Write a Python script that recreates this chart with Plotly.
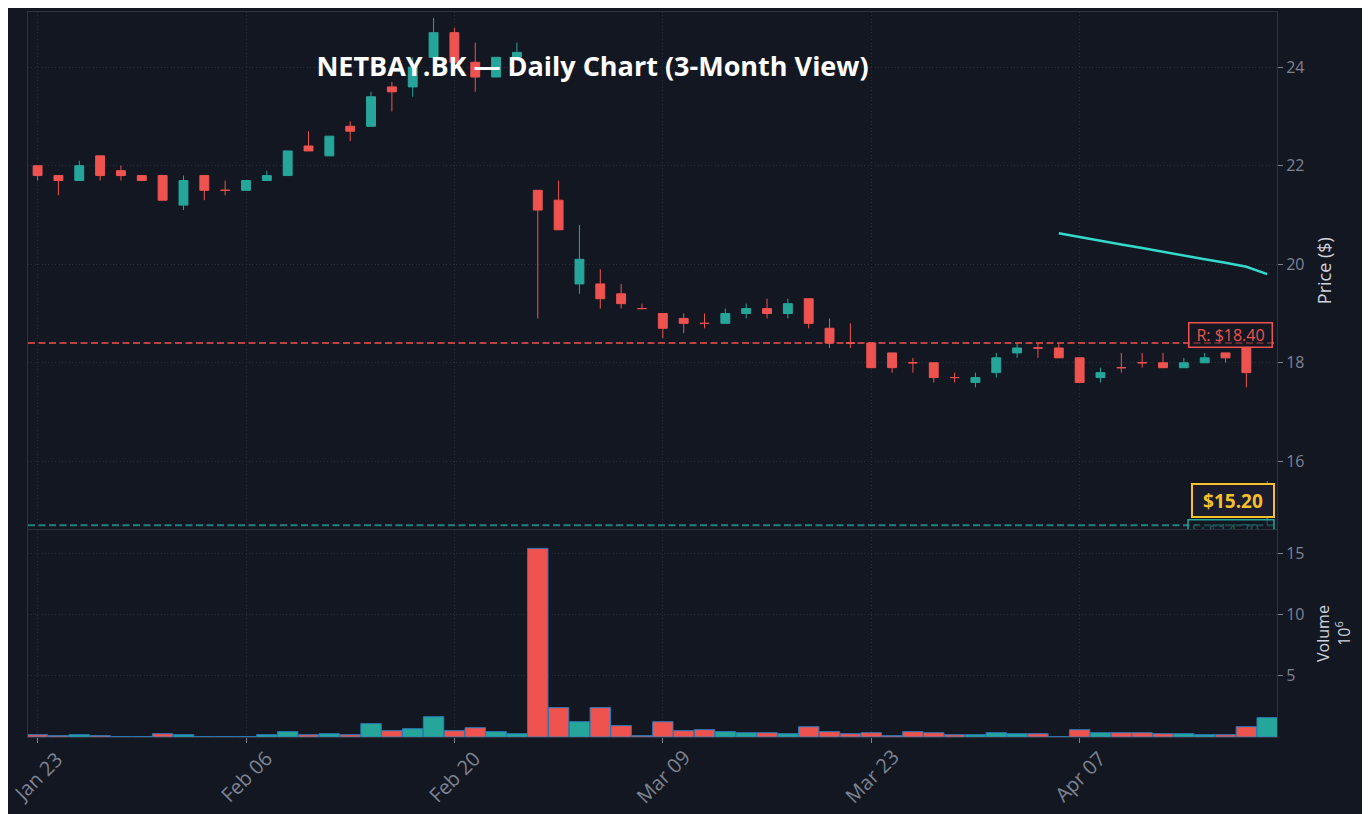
import plotly.graph_objects as go

# ---------------- data ----------------
dates = [
    "2026-01-23", "2026-01-26", "2026-01-27", "2026-01-28", "2026-01-29", "2026-01-30",
    "2026-02-02", "2026-02-03", "2026-02-04", "2026-02-05", "2026-02-06", "2026-02-09",
    "2026-02-10", "2026-02-11", "2026-02-12", "2026-02-13", "2026-02-16", "2026-02-17",
    "2026-02-18", "2026-02-19", "2026-02-20", "2026-02-23", "2026-02-24", "2026-02-25",
    "2026-02-26", "2026-02-27", "2026-03-02", "2026-03-04", "2026-03-05", "2026-03-06",
    "2026-03-09", "2026-03-10", "2026-03-11", "2026-03-12", "2026-03-13", "2026-03-16",
    "2026-03-17", "2026-03-18", "2026-03-19", "2026-03-20", "2026-03-23", "2026-03-24",
    "2026-03-25", "2026-03-26", "2026-03-27", "2026-03-30", "2026-03-31", "2026-04-01",
    "2026-04-02", "2026-04-03", "2026-04-07", "2026-04-08", "2026-04-09", "2026-04-10",
    "2026-04-16", "2026-04-17", "2026-04-20", "2026-04-21", "2026-04-22", "2026-04-23",
]

opens = [22.0, 21.8, 21.7, 22.2, 21.9, 21.8, 21.8, 21.2, 21.8, 21.5,
         21.5, 21.7, 21.8, 22.4, 22.2, 22.8, 22.8, 23.6, 23.6, 24.2,
         24.7, 24.1, 23.8, 24.2, 21.5, 21.3, 19.6, 19.6, 19.4, 19.1,
         19.0, 18.9, 18.8, 18.8, 19.0, 19.1, 19.0, 19.3, 18.7, 18.4,
         18.4, 18.2, 18.0, 18.0, 17.7, 17.6, 17.8, 18.2, 18.3, 18.3,
         18.1, 17.7, 17.9, 18.0, 18.0, 17.9, 18.0, 18.2, 18.3, 14.9]
highs = [22.0, 21.8, 22.1, 22.2, 22.0, 21.8, 21.8, 21.8, 21.8, 21.7,
         21.7, 21.9, 22.3, 22.7, 22.6, 22.9, 23.5, 23.7, 24.2, 25.0,
         24.8, 24.5, 24.2, 24.5, 21.5, 21.7, 20.8, 19.9, 19.6, 19.2,
         19.0, 19.0, 19.0, 19.1, 19.2, 19.3, 19.3, 19.3, 18.9, 18.8,
         18.4, 18.2, 18.1, 18.0, 17.8, 17.8, 18.2, 18.4, 18.4, 18.4,
         18.1, 17.9, 18.2, 18.2, 18.2, 18.1, 18.2, 18.2, 18.3, 15.6]
lows = [21.7, 21.4, 21.7, 21.7, 21.7, 21.7, 21.3, 21.1, 21.3, 21.4,
        21.5, 21.7, 21.8, 22.3, 22.2, 22.5, 22.8, 23.1, 23.4, 24.2,
        24.1, 23.5, 23.8, 24.2, 18.9, 20.7, 19.4, 19.1, 19.1, 19.1,
        18.5, 18.6, 18.7, 18.8, 18.9, 18.9, 18.9, 18.7, 18.3, 18.3,
        17.9, 17.8, 17.8, 17.6, 17.6, 17.5, 17.7, 18.1, 18.1, 18.1,
        17.6, 17.6, 17.8, 17.9, 17.9, 17.9, 18.0, 18.0, 17.5, 14.7]
closes = [21.8, 21.7, 22.0, 21.8, 21.8, 21.7, 21.3, 21.7, 21.5, 21.5,
          21.7, 21.8, 22.3, 22.3, 22.6, 22.7, 23.4, 23.5, 24.0, 24.7,
          24.1, 23.8, 24.2, 24.3, 21.1, 20.7, 20.1, 19.3, 19.2, 19.1,
          18.7, 18.8, 18.8, 19.0, 19.1, 19.0, 19.2, 18.8, 18.4, 18.4,
          17.9, 17.9, 18.0, 17.7, 17.7, 17.7, 18.1, 18.3, 18.3, 18.1,
          17.6, 17.8, 17.9, 18.0, 17.9, 18.0, 18.1, 18.1, 17.8, 15.2]
volumes_m = [0.19, 0.11, 0.19, 0.11, 0.03, 0.03, 0.27, 0.19, 0.03, 0.03,
             0.03, 0.19, 0.44, 0.19, 0.27, 0.19, 1.09, 0.52, 0.68, 1.66,
             0.52, 0.76, 0.44, 0.27, 15.4, 2.40, 1.25, 2.40, 0.93, 0.11,
             1.25, 0.52, 0.60, 0.44, 0.35, 0.35, 0.27, 0.84, 0.44, 0.27,
             0.35, 0.11, 0.44, 0.35, 0.19, 0.19, 0.35, 0.27, 0.27, 0.03,
             0.60, 0.35, 0.35, 0.35, 0.27, 0.27, 0.19, 0.19, 0.84, 1.58]
ma50 = [None] * 49 + [20.63, 20.55, 20.48, 20.40, 20.33, 20.25, 20.18, 20.10, 20.03, 19.95, 19.80]

tick_idx = [0, 10, 20, 30, 40, 50]
tick_labels = ["Jan 23", "Feb 06", "Feb 20", "Mar 09", "Mar 23", "Apr 07"]

resistance = 18.40
support = 14.70
last_price = closes[-1]

# ---------------- style ----------------
BG = "#131722"
UP = "#26a69a"
DOWN = "#ef5350"
GRID = "#2a2e39"
FRAME = "#2f3340"
TICK = "#7e8391"
TITLE_C = "#d1d4dc"
FONT = "Open Sans"
GRID_DASH = "1px,2.4px"

W, H = 1370, 814
M_L, M_R, M_T, M_B = 20, 101, 4, 85
PLOT_W = W - M_L - M_R
PLOT_H = H - M_T - M_B

price_range = [14.62, 25.12]
vol_range = [0, 16.9]
x_range = [-0.46, 59.47]

up_mask = [c > o for o, c in zip(opens, closes)]
dn_mask = [not m for m in up_mask]


def pick(vals, mask):
    return [v if m else None for v, m in zip(vals, mask)]


fig = go.Figure()

for mask, col in ((up_mask, UP), (dn_mask, DOWN)):
    fig.add_trace(go.Candlestick(
        x=dates, open=pick(opens, mask), high=pick(highs, mask),
        low=pick(lows, mask), close=pick(closes, mask),
        increasing=dict(line=dict(color=col, width=1), fillcolor=col),
        decreasing=dict(line=dict(color=col, width=1), fillcolor=col),
        whiskerwidth=0, showlegend=False, xaxis="x", yaxis="y", hoverinfo="skip",
    ))

fig.add_trace(go.Scatter(
    x=dates, y=ma50, mode="lines", line=dict(color="#35d9cc", width=2.5),
    showlegend=False, xaxis="x", yaxis="y", hoverinfo="skip",
))

vol_colors = [UP if m else DOWN for m in up_mask]
fig.add_trace(go.Bar(
    x=dates, y=volumes_m, marker=dict(color=vol_colors, line=dict(color="#2a7ab8", width=1)),
    showlegend=False, xaxis="x2", yaxis="y2", hoverinfo="skip",
))

# support label (clipped by the bottom of the price panel)
PX_PER_UNIT_Y = 517.0 / (price_range[1] - price_range[0])
PX_PER_UNIT_X = PLOT_W / (x_range[1] - x_range[0])
s_label_y = support - 7 / PX_PER_UNIT_Y
fig.add_trace(go.Scatter(
    x=[dates[57]], y=[s_label_y], mode="text", text=[f"S: ${support:.2f}"],
    textfont=dict(family=FONT, size=16, color=UP), textposition="middle center",
    cliponaxis=True, showlegend=False, xaxis="x", yaxis="y", hoverinfo="skip",
))

box_right_x = x_range[1] - 3 / PX_PER_UNIT_X
shapes = [
    dict(type="line", xref="x domain", x0=0, x1=1, yref="y", y0=resistance, y1=resistance,
         line=dict(color="rgba(239,83,80,0.75)", width=2, dash="7px,3.5px")),
    dict(type="line", xref="x domain", x0=0, x1=1, yref="y", y0=support, y1=support,
         line=dict(color="rgba(38,166,154,0.75)", width=2, dash="7px,3.5px")),
    dict(type="rect", xref="x", yref="y",
         x0=box_right_x - 86 / PX_PER_UNIT_X, x1=box_right_x,
         y0=support - 19.5 / PX_PER_UNIT_Y, y1=support + 5.5 / PX_PER_UNIT_Y,
         line=dict(color=UP, width=1.5), fillcolor="rgba(19,23,34,0.5)", layer="above"),
]

annotations = [
    dict(xref="paper", x=1 - 4 / PLOT_W, xanchor="right", yref="y", y=resistance,
         yanchor="middle", yshift=8, text=f"R: ${resistance:.2f}", showarrow=False,
         font=dict(family=FONT, size=16, color=DOWN), bordercolor=DOWN, borderwidth=1.5,
         borderpad=2, bgcolor="rgba(19,23,34,0.5)", width=78, height=19),
    dict(xref="paper", x=1 - 2 / PLOT_W, xanchor="right", yref="y", y=last_price,
         yanchor="middle", text=f"<b>${last_price:.2f}</b>", showarrow=False,
         font=dict(family=FONT, size=19, color="#f5c02c"), bordercolor="#f5c02c",
         borderwidth=2, borderpad=3, bgcolor="#1b1d2d", width=74, height=25),
]

# date labels, rotated about their centre below each tick
for i, lab in zip(tick_idx, tick_labels):
    annotations.append(dict(
        xref="x2", x=dates[i], yref="paper", y=-39 / PLOT_H, xanchor="center",
        yanchor="middle", text=lab, textangle=-45, showarrow=False,
        font=dict(family=FONT, size=20, color=TICK),
    ))

axis_common = dict(showgrid=True, gridcolor=GRID, griddash=GRID_DASH, gridwidth=1,
                   showline=True, linecolor=FRAME, mirror=True, zeroline=False,
                   automargin=False)

fig.update_layout(
    width=W, height=H,
    paper_bgcolor=BG, plot_bgcolor=BG,
    margin=dict(l=M_L, r=M_R, t=M_T, b=M_B),
    font=dict(family=FONT, size=16, color=TICK),
    title=dict(text="<b>NETBAY.BK — Daily Chart (3-Month View)</b>",
               font=dict(family=FONT, size=27, color="#ffffff"),
               x=(592.5 - 8) / W, xanchor="center", xref="container",
               y=1 - 59 / H, yanchor="middle", yref="container"),
    showlegend=False,
    bargap=0.02,
    boxgap=0.39,
    shapes=shapes,
    annotations=annotations,
    xaxis=dict(type="category", domain=[0, 1], anchor="y", matches="x2", range=x_range,
               tickvals=[dates[i] for i in tick_idx], ticktext=tick_labels,
               showticklabels=False, ticks="",
               rangeslider=dict(visible=False), **axis_common),
    yaxis=dict(domain=[0.2865, 1], anchor="x", side="right", range=price_range,
               dtick=2, tick0=0,
               ticks="outside", ticklen=5, tickcolor=TICK, tickfont=dict(size=16, color=TICK),
               title=dict(text="Price ($)", font=dict(size=18, color=TITLE_C), standoff=14),
               **axis_common),
    xaxis2=dict(type="category", domain=[0, 1], anchor="y2", range=x_range,
                tickvals=[dates[i] for i in tick_idx], ticktext=tick_labels,
                showticklabels=False, ticks="outside", ticklen=5, tickcolor=TICK,
                **axis_common),
    yaxis2=dict(domain=[0, 0.2855], anchor="x2", side="right", range=vol_range,
                tickvals=[5, 10, 15],
                ticks="outside", ticklen=5, tickcolor=TICK, tickfont=dict(size=16, color=TICK),
                title=dict(text="Volume<br>10<sup>6</sup>", font=dict(size=16, color=TITLE_C),
                           standoff=14),
                **axis_common),
)

fig.write_html("out.html")
